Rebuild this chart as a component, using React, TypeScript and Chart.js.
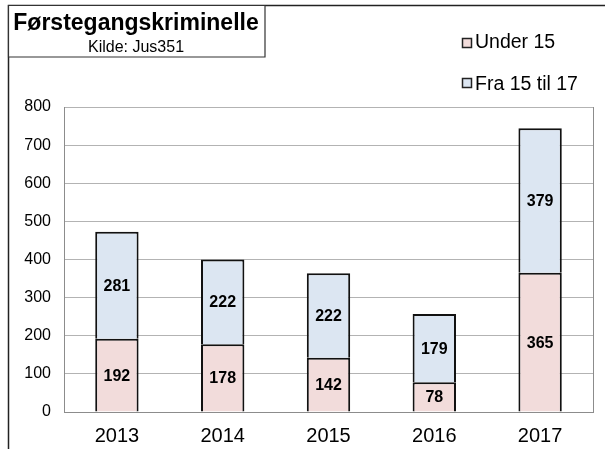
import React, { useEffect, useRef } from "react";
import { Chart, registerables } from "chart.js";

Chart.register(...registerables);

const categories = ["2013", "2014", "2015", "2016", "2017"];
const under15 = [192, 178, 142, 78, 365];
const fra15til17 = [281, 222, 222, 179, 379];
const seriesNames = ["Under 15", "Fra 15 til 17"];
const titleText = "Førstegangskriminelle";
const subtitleText = "Kilde: Jus351";
const yTicks = [0, 100, 200, 300, 400, 500, 600, 700, 800];

const PINK = "#f2dcdb";
const BLUE = "#dce6f2";
const FONT = "Arial, 'Liberation Sans', sans-serif";

const decorPlugin = {
  id: "decor",
  afterDraw(chart: any) {
    const ctx = chart.ctx as CanvasRenderingContext2D;
    const ca = chart.chartArea;
    ctx.save();
    // plot right border
    ctx.strokeStyle = "#8c8c8c";
    ctx.lineWidth = 1;
    ctx.beginPath();
    ctx.moveTo(Math.round(ca.right) + 0.5, ca.top);
    ctx.lineTo(Math.round(ca.right) + 0.5, ca.bottom);
    ctx.stroke();

    // outer page frame
    ctx.strokeStyle = "#222";
    ctx.lineWidth = 1.5;
    ctx.beginPath();
    ctx.moveTo(605, 5.5);
    ctx.lineTo(8.5, 5.5);
    ctx.lineTo(8.5, 449);
    ctx.stroke();

    // title box
    ctx.beginPath();
    ctx.rect(8.5, 5.5, 256.5, 51.5);
    ctx.fillStyle = "#fff";
    ctx.fill();
    ctx.strokeStyle = "#333";
    ctx.lineWidth = 1.2;
    ctx.stroke();

    ctx.fillStyle = "#000";
    ctx.textAlign = "center";
    ctx.textBaseline = "alphabetic";
    ctx.font = `bold 23px ${FONT}`;
    ctx.fillText(titleText, 136, 30);
    ctx.font = `16px ${FONT}`;
    ctx.fillText(subtitleText, 136, 52);

    // legend
    const items = [
      { label: seriesNames[0], color: PINK, base: 48, sq: 38 },
      { label: seriesNames[1], color: BLUE, base: 90, sq: 78 },
    ];
    items.forEach((it) => {
      ctx.fillStyle = it.color;
      ctx.fillRect(462.5, it.sq + 0.5, 9, 9);
      ctx.strokeStyle = "#222";
      ctx.lineWidth = 1.5;
      ctx.strokeRect(462.5, it.sq + 0.5, 9, 9);
      ctx.fillStyle = "#000";
      ctx.textAlign = "left";
      ctx.textBaseline = "alphabetic";
      ctx.font = `19.5px ${FONT}`;
      ctx.fillText(it.label, 475, it.base);
    });
    ctx.restore();
  },
};

const labelPlugin = {
  id: "segLabels",
  afterDatasetsDraw(chart: any) {
    const ctx = chart.ctx as CanvasRenderingContext2D;
    ctx.save();
    ctx.font = `bold 16px ${FONT}`;
    ctx.fillStyle = "#000";
    ctx.textAlign = "center";
    ctx.textBaseline = "middle";
    chart.data.datasets.forEach((ds: any, di: number) => {
      const meta = chart.getDatasetMeta(di);
      meta.data.forEach((el: any, i: number) => {
        const y = (el.y + el.base) / 2;
        ctx.fillText(String(ds.data[i]), el.x, y + 1);
      });
    });
    ctx.restore();
  },
};

export default function App() {
  const ref = useRef<HTMLCanvasElement | null>(null);
  useEffect(() => {
    if (!ref.current) return;
    const chart = new Chart(ref.current, {
      type: "bar",
      data: {
        labels: categories,
        datasets: [
          {
            label: seriesNames[0],
            data: under15,
            backgroundColor: PINK,
            borderColor: "#111",
            borderWidth: 2,
            barPercentage: 0.41,
            categoryPercentage: 1,
          },
          {
            label: seriesNames[1],
            data: fra15til17,
            backgroundColor: BLUE,
            borderColor: "#111",
            borderWidth: 2,
            barPercentage: 0.41,
            categoryPercentage: 1,
          },
        ],
      },
      options: {
        responsive: false,
        animation: false,
        devicePixelRatio: 1,
        layout: { padding: { top: 107, right: 12, left: 0, bottom: 0 } },
        plugins: {
          legend: { display: false },
          title: { display: false },
          tooltip: { enabled: false },
        },
        scales: {
          x: {
            stacked: true,
            grid: { display: false, drawTicks: false },
            border: { display: true, color: "#8c8c8c", width: 1 },
            ticks: { color: "#000", font: { family: FONT, size: 20 }, padding: 12 },
            afterFit(scale: any) {
              scale.height = 37;
            },
          },
          y: {
            stacked: true,
            min: 0,
            max: 800,
            afterBuildTicks(scale: any) {
              scale.ticks = yTicks.map((v) => ({ value: v }));
            },
            grid: { color: "#b3b3b3", lineWidth: 1, drawTicks: false },
            border: { display: true, color: "#8c8c8c", width: 1 },
            ticks: { color: "#000", font: { family: FONT, size: 16 }, padding: 13 },
            afterFit(scale: any) {
              scale.width = 64;
            },
          },
        },
      },
      plugins: [labelPlugin, decorPlugin],
    });
    return () => chart.destroy();
  }, []);
  return (
    <div style={{ position: "absolute", left: 0, top: 0, width: 605, height: 449, background: "#fff" }}>
      <canvas ref={ref} width={605} height={449} style={{ display: "block" }} />
    </div>
  );
}
